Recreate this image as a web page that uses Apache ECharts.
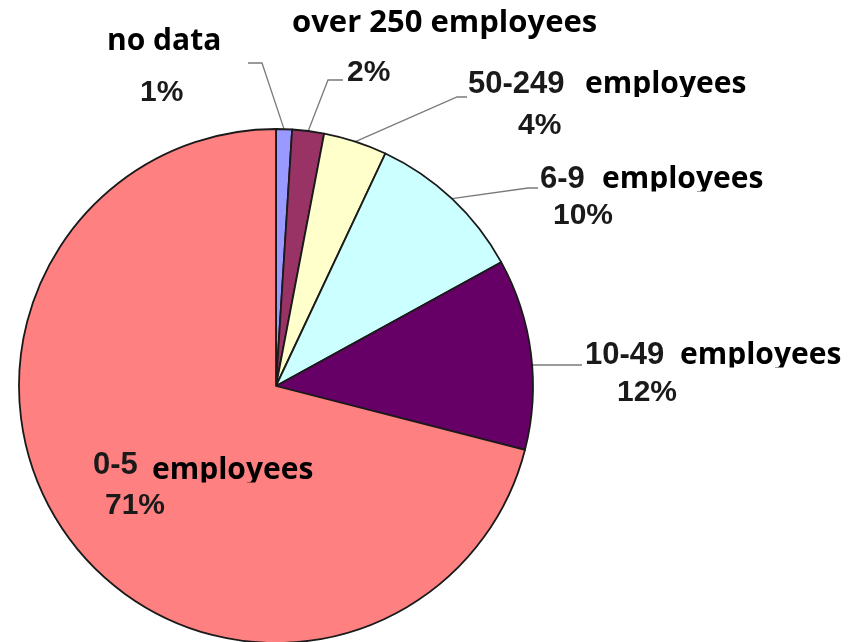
<!DOCTYPE html>
<html>
<head>
<meta charset="utf-8">
<title>Enterprises by number of employees</title>
<script src="https://cdn.jsdelivr.net/npm/echarts@6/dist/echarts.min.js"></script>
<style>
  html, body { margin: 0; padding: 0; background: #ffffff; }
  #chart { width: 859px; height: 642px; }
</style>
</head>
<body>
<div id="chart"></div>
<script>
// Share of enterprises by size class (percent), clockwise from 12 o'clock
const sizeClasses = ['no data', 'over 250 employees', '50-249 employees', '6-9 employees', '10-49 employees', '0-5 employees'];
const shares = [1, 2, 4, 10, 12, 71];
const sliceColors = ['#9999FF', '#993366', '#FFFFCC', '#CCFFFF', '#660066', '#FF8080'];

// Pie geometry
const PIE_CENTER = [276, 386];
const PIE_RADIUS = 257;

// Label block layout: left x, top y, line height, offset of the word part,
// offset of the percent line, descender mask start / width, word shift, word size
const labelBoxes = [
  { x: 107, top: 16,    lh: 51, wordOff: 0,   pctOff: 33, mask: null,      shift: 0, wsize: 30 },
  { x: 292, top: -1,    lh: 49, wordOff: 0,   pctOff: 55, mask: null,      shift: 0, wsize: 31 },
  { x: 468, top: 64,    lh: 41, wordOff: 117, pctOff: 50, mask: [162, 72], shift: 0, wsize: 30 },
  { x: 540, top: 160.5, lh: 37, wordOff: 62,  pctOff: 13, mask: [107, 72], shift: 0, wsize: 30 },
  { x: 585, top: 336,   lh: 38, wordOff: 95,  pctOff: 32, mask: [140, 72], shift: 0, wsize: 30 },
  { x: 93,  top: 444.5, lh: 41, wordOff: 59,  pctOff: 12, mask: [104, 72], shift: 5, wsize: 30 }
];

// Leader line bends (elbow, end) for the outside labels
const leaderBends = [
  [[262, 63], [248, 63]],
  [[328, 80], [343, 80]],
  [[457, 97], [467, 97]],
  [[528, 188], [538, 188]],
  { y: 365, end: [582, 365] },
  null
];

const PCT_WIDTH = 72;
const NUM_FONT = 'Liberation Sans, Arial, sans-serif';
const WORD_FONT = 'Open Sans, sans-serif';

function rimPoint(angleDeg) {
  const a = angleDeg * Math.PI / 180;
  return [PIE_CENTER[0] + PIE_RADIUS * Math.sin(a), PIE_CENTER[1] - PIE_RADIUS * Math.cos(a)];
}

function midAngle(i) {
  const total = shares.reduce((s, v) => s + v, 0);
  let before = 0;
  for (let k = 0; k < i; k++) before += shares[k];
  return (before + shares[i] / 2) / total * 360;
}

function buildItem(i) {
  const name = sizeClasses[i];
  const box = labelBoxes[i];
  const lh = box.lh;
  const startsWithNumber = /^[0-9]/.test(name);
  let line1;
  const rich = {
    n: { fontFamily: NUM_FONT, fontWeight: 'bold', fontSize: 31, color: '#1a1a1a', lineHeight: lh, width: box.wordOff },
    w: { fontFamily: WORD_FONT, fontWeight: 'bold', fontSize: box.wsize, color: '#000000', lineHeight: lh,
         padding: [box.shift * 2, 0, 0, 0] },
    s: { fontSize: 10, lineHeight: lh, width: box.pctOff },
    p: { fontFamily: NUM_FONT, fontWeight: 'bold', fontSize: 30, color: '#1a1a1a', lineHeight: lh, width: PCT_WIDTH }
  };
  if (startsWithNumber) {
    const cut = name.indexOf(' ');
    line1 = '{n|' + name.slice(0, cut) + '}{w|' + name.slice(cut + 1) + '}';
  } else {
    line1 = '{w|' + name + '}';
  }
  let line2 = '{s| }{p|' + shares[i] + '%}';
  if (box.mask) {
    // hides the descenders of the word part, as in the printed labels
    const line2Center = lh * 1.5;
    const maskTop = lh / 2 + box.shift + 12.5;
    rich.g = { fontSize: 10, lineHeight: lh, width: box.mask[0] - box.pctOff - PCT_WIDTH };
    rich.m = { fontSize: 10, lineHeight: lh, width: box.mask[1], height: 2 * (line2Center - maskTop),
               backgroundColor: i === 5 ? sliceColors[5] : '#ffffff' };
    line2 += '{g| }{m| }';
  }
  return {
    name: name,
    value: shares[i],
    itemStyle: { color: sliceColors[i] },
    label: { formatter: line1 + '\n' + line2, rich: rich },
    labelLine: { show: leaderBends[i] != null }
  };
}

const chart = echarts.init(document.getElementById('chart'), null, { renderer: 'canvas' });

chart.setOption({
  animation: false,
  backgroundColor: '#ffffff',
  series: [{
    type: 'pie',
    center: PIE_CENTER,
    radius: PIE_RADIUS,
    startAngle: 90,
    clockwise: true,
    avoidLabelOverlap: false,
    silent: true,
    itemStyle: { borderColor: '#1a1a1a', borderWidth: 1.8 },
    label: { show: true, position: 'outside', padding: 0 },
    labelLine: { show: true, smooth: false, length: 10, length2: 10,
                 lineStyle: { color: '#7a7a7a', width: 1.3 } },
    emphasis: { disabled: true },
    labelLayout: function (params) {
      const i = params.dataIndex;
      const box = labelBoxes[i];
      const out = { x: box.x, y: box.top, align: 'left', verticalAlign: 'top' };
      const bend = leaderBends[i];
      if (bend) {
        if (Array.isArray(bend)) {
          const start = (params.labelLinePoints && params.labelLinePoints[0]) || rimPoint(midAngle(i));
          out.labelLinePoints = [start, bend[0], bend[1]];
        } else {
          const dy = PIE_CENTER[1] - bend.y;
          const start = [PIE_CENTER[0] + Math.sqrt(PIE_RADIUS * PIE_RADIUS - dy * dy), bend.y];
          out.labelLinePoints = [start, [start[0] + 1, bend.y], bend.end];
        }
      }
      return out;
    },
    data: shares.map((_, i) => buildItem(i))
  }]
});
</script>
</body>
</html>
